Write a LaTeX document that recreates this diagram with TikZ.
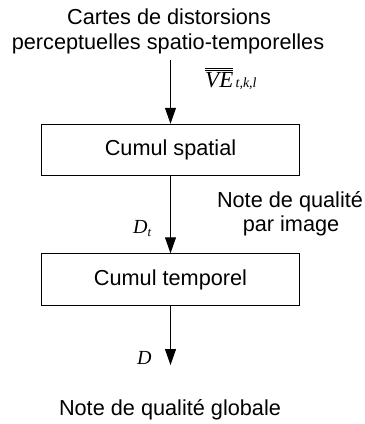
\documentclass[tikz,border=0pt]{standalone}
\usepackage{fontspec}
\setmainfont{Liberation Sans}
\newfontfamily\tms{Liberation Serif}
\usetikzlibrary{arrows.meta}
\tikzset{
  lbl/.style={font=\fontsize{21.7bp}{26bp}\selectfont, inner sep=0pt},
  mlbl/.style={font=\fontsize{20bp}{24bp}\selectfont\tms\itshape, inner sep=0pt},
  blockbox/.style={draw, line width=1bp, minimum width=257bp, minimum height=51.5bp, inner sep=0pt,
    font=\fontsize{21.7bp}{26bp}\selectfont},
  flow/.style={line width=1bp, -{Triangle[width=11bp,length=16bp]}}
}
\begin{document}
\begin{tikzpicture}[x=1bp,y=-1bp]
\useasboundingbox (0,0) rectangle (365,424);
\node[lbl, anchor=base] (t1) at (169,24) {Cartes de distorsions};
\node[lbl, anchor=base] (t2) at (168,49) {perceptuelles spatio-temporelles};
\node[blockbox] (b1) at (170.5,150) {Cumul spatial};
\node[blockbox] (b2) at (170.5,279.5) {Cumul temporel};
\coordinate (in) at (170.5,60);
\coordinate (out) at (170.5,365);
\draw[flow] (in) -- (b1.north);
\draw[flow] (b1.south) -- (b2.north);
\draw[flow] (b2.south) -- (out);
\node[anchor=base west, inner sep=0pt] (ve) at (205,87)
  {$\overline{\overline{\mbox{\fontsize{23bp}{26bp}\selectfont\tms\itshape VE}}}$\mbox{\fontsize{14bp}{16bp}\selectfont\tms\itshape\,t,k,l}};
\node[mlbl, anchor=base west] (dt) at (133,233) {D\raisebox{-3bp}{\fontsize{13bp}{15bp}\selectfont t}};
\node[lbl, anchor=base] (q1) at (290,207) {Note de qualité};
\node[lbl, anchor=base] (q2) at (291,231) {par image};
\node[mlbl, anchor=base west] (d) at (137,364) {D};
\node[lbl, anchor=base] (g) at (170,415) {Note de qualité globale};
\end{tikzpicture}
\end{document}
